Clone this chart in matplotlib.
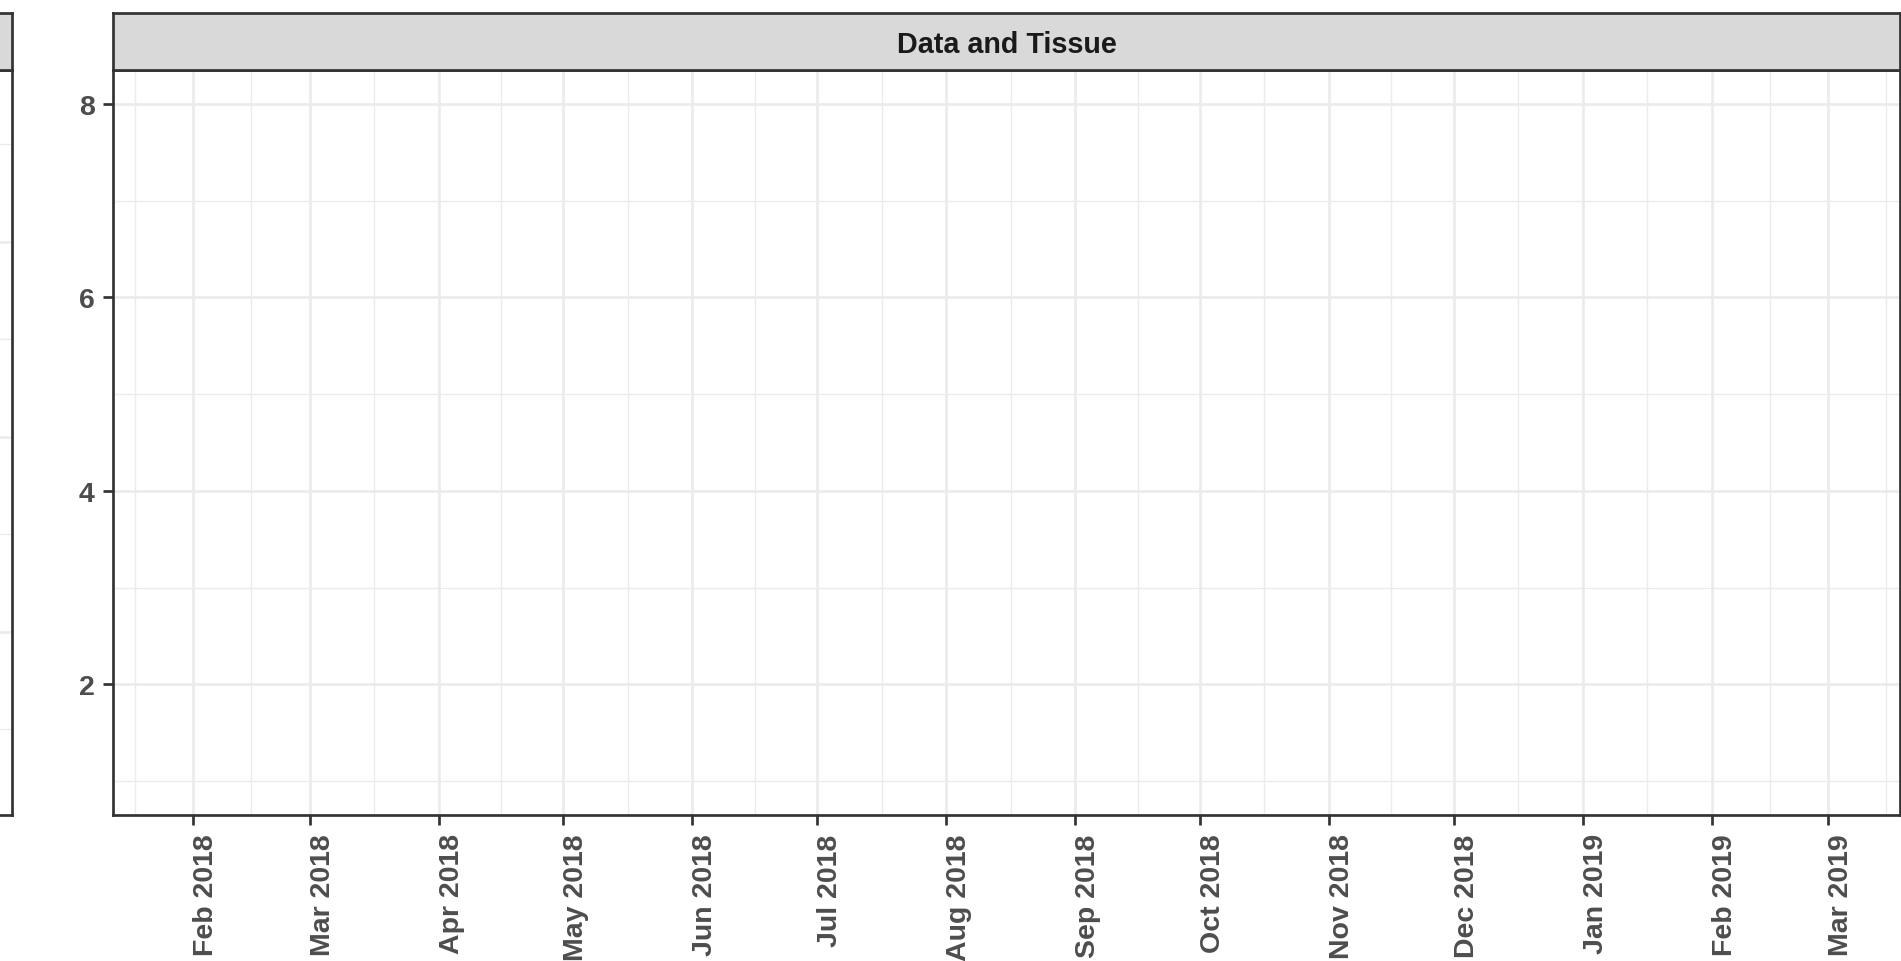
import datetime as dt
import matplotlib
matplotlib.use("Agg")
import matplotlib.pyplot as plt
import matplotlib.dates as mdates
from matplotlib.ticker import FixedLocator, NullFormatter

plt.rcParams['font.family'] = ['Liberation Sans', 'DejaVu Sans']

# ---- data (the facet is empty: only the scales are shown) ----
strip_title = "Data and Tissue"
month_breaks = [dt.date(2018, m, 1) for m in range(2, 13)] + \
               [dt.date(2019, m, 1) for m in range(1, 4)]
month_labels = [d.strftime("%b %Y") for d in month_breaks]
y_breaks = [2, 4, 6, 8]
y_minor = [1, 3, 5, 7]
y_limits = (0.65, 8.35)
x_limits = (dt.datetime(2018, 1, 12, 17), dt.datetime(2019, 3, 18, 7))

# neighbouring facet on the left, only its right edge is in the picture
left_y_breaks = [2, 4, 6]
left_y_minor = [1, 3, 5, 7]
left_y_limits = (0.12, 7.76)

W, H = 1901, 962
BORDER = "#333333"
GRID = "#EBEBEB"
STRIP = "#D9D9D9"
LW_BORDER = 1.95


def minor_breaks(b):
    # same idea as ggplot's regular_minor_breaks: midpoints, extended one step
    bd = b[1] - b[0]
    b = [b[0] - bd] + list(b) + [b[-1] + bd]
    return [b[i] + (b[i + 1] - b[i]) / 2 for i in range(len(b) - 1)]


def px(x0, y0, x1, y1):
    return [x0 / W, 1 - y1 / H, (x1 - x0) / W, (y1 - y0) / H]


def style_panel(ax):
    for s in ax.spines.values():
        s.set_color(BORDER)
        s.set_linewidth(LW_BORDER)
    ax.set_axisbelow(True)
    ax.grid(which="major", color=GRID, linewidth=1.9)
    ax.grid(which="minor", color=GRID, linewidth=1.0)


def add_strip(x0, x1, text=None):
    sax = fig.add_axes(px(x0, 14, x1, 71))
    sax.set_facecolor(STRIP)
    sax.set_xticks([])
    sax.set_yticks([])
    for s in sax.spines.values():
        s.set_color(BORDER)
        s.set_linewidth(LW_BORDER)
    if text:
        sax.text(0.5, 0.31, text, transform=sax.transAxes, ha="center",
                 va="baseline", fontsize=20.7, fontweight="bold", color="#1A1A1A")
    return sax


fig = plt.figure(figsize=(W / 100, H / 100), dpi=100)

# left (cut off) facet
axl = fig.add_axes(px(-600, 71, 12, 816))
style_panel(axl)
axl.set_ylim(*left_y_limits)
axl.set_yticks(left_y_breaks)
axl.set_yticks(left_y_minor, minor=True)
axl.set_xticks([])
axl.tick_params(which="both", left=False, labelleft=False)
add_strip(-600, 12)

# main facet
ax = fig.add_axes(px(113, 71, 1900, 816))
style_panel(ax)
ax.set_xlim(*x_limits)
ax.set_ylim(*y_limits)

major_x = [mdates.date2num(d) for d in month_breaks]
ax.xaxis.set_major_locator(FixedLocator(major_x))
ax.xaxis.set_minor_locator(FixedLocator(minor_breaks(major_x)))
ax.set_xticklabels(month_labels)
ax.xaxis.set_minor_formatter(NullFormatter())

ax.set_yticks(y_breaks)
ax.set_yticks(y_minor, minor=True)
ax.set_yticklabels([str(v) for v in y_breaks])

ax.tick_params(which="major", length=7.4, width=LW_BORDER, color=BORDER,
               labelsize=20.5, labelcolor="#4D4D4D", pad=5.8)
ax.tick_params(which="minor", length=0)
for lab in ax.get_xticklabels() + ax.get_yticklabels():
    lab.set_fontweight("bold")
plt.setp(ax.get_xticklabels(), rotation=90, ha="left", va="top")

add_strip(113, 1900, strip_title)

fig.savefig("out.png", dpi=100)
